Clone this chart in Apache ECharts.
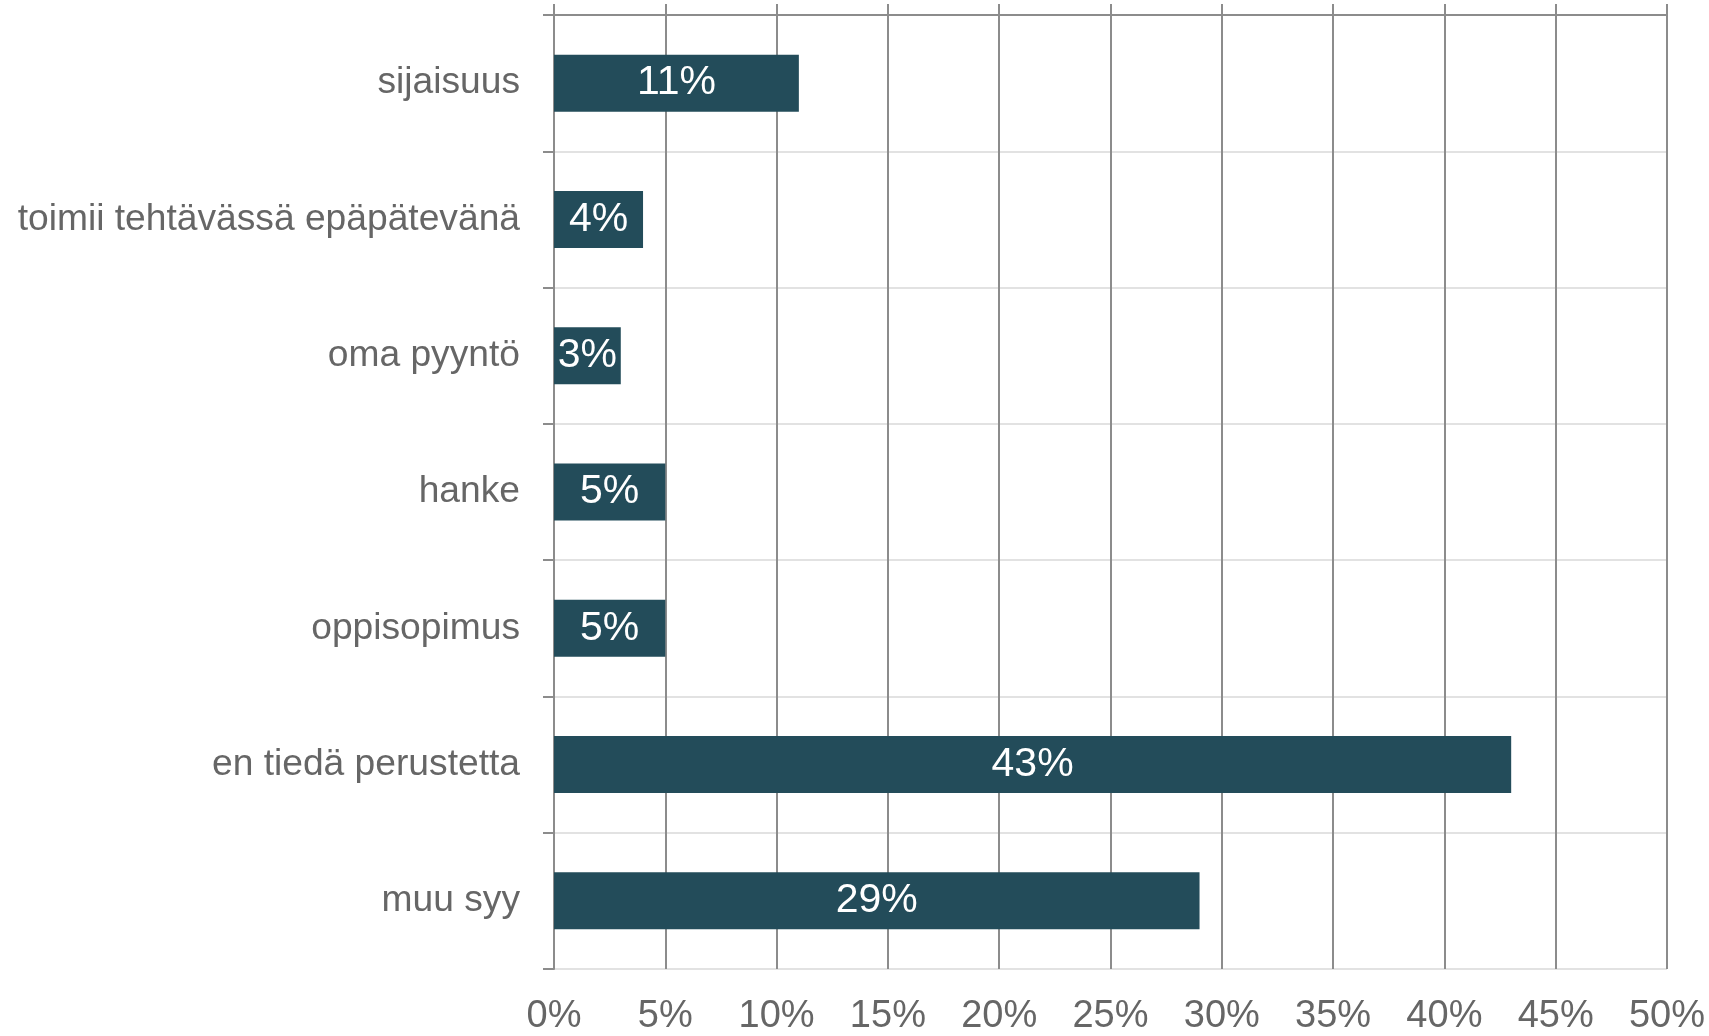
<!DOCTYPE html>
<html>
<head>
<meta charset="utf-8">
<title>Perusteet</title>
<script src="https://cdn.jsdelivr.net/npm/echarts@6/dist/echarts.min.js"></script>
<style>
  html, body { margin: 0; padding: 0; background: #fff; }
  #chart { width: 1709px; height: 1036px; }
</style>
</head>
<body>
<div id="chart"></div>
<script>
// categories top to bottom
const categories = ['sijaisuus', 'toimii tehtävässä epäpätevänä', 'oma pyyntö', 'hanke', 'oppisopimus', 'en tiedä perustetta', 'muu syy']
const shares = [11, 4, 3, 5, 5, 43, 29]
const axisMin = 0
const axisMax = 50
const axisStep = 5

const gridGray = '#8c8c8c'
const lightGray = '#e2e2e2'
const textGray = '#666666'
const barColor = '#234c5a'
const font = 'Liberation Sans, Arial, sans-serif'

const chart = echarts.init(document.getElementById('chart'))
chart.setOption({
  animation: false,
  grid: { left: 554, right: 42, top: 15, bottom: 65 },
  xAxis: [
    {
      type: 'value',
      position: 'bottom',
      min: axisMin,
      max: axisMax,
      interval: axisStep,
      axisLine: { show: false },
      axisTick: { show: false },
      axisLabel: {
        margin: 29,
        color: textGray,
        fontFamily: font,
        fontSize: 38,
        formatter: v => v + '%'
      },
      splitLine: { show: true, lineStyle: { color: gridGray, width: 2 } }
    },
    {
      // top axis: dark border line and the short ticks sticking up
      type: 'value',
      position: 'top',
      min: axisMin,
      max: axisMax,
      interval: axisStep,
      axisLine: { show: true, lineStyle: { color: gridGray, width: 2 } },
      axisTick: { show: true, inside: false, length: 11, lineStyle: { color: gridGray, width: 2 } },
      axisLabel: { show: false },
      splitLine: { show: false }
    }
  ],
  yAxis: {
    type: 'category',
    inverse: true,
    data: categories,
    axisLine: { show: true, lineStyle: { color: gridGray, width: 2 } },
    axisTick: { show: true, length: 11, lineStyle: { color: gridGray, width: 2 } },
    axisLabel: {
      margin: 34,
      color: textGray,
      fontFamily: font,
      fontSize: 37.2
    },
    splitLine: { show: true, lineStyle: { color: lightGray, width: 2 } }
  },
  series: [
    {
      type: 'bar',
      xAxisIndex: 0,
      data: shares,
      barWidth: 57,
      itemStyle: { color: barColor },
      label: {
        show: true,
        position: 'inside',
        color: '#ffffff',
        fontFamily: font,
        fontSize: 41,
        formatter: p => p.value + '%'
      }
    }
  ]
})
</script>
</body>
</html>
